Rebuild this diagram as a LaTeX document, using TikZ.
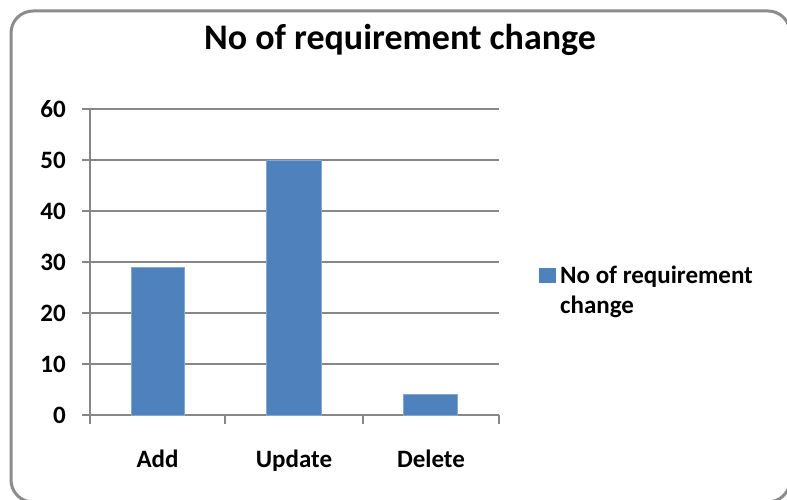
\documentclass[tikz,border=0pt]{standalone}
\usepackage{fontspec}
\setmainfont{Carlito}
\definecolor{barblue}{HTML}{4F81BD}
\definecolor{gridgray}{HTML}{878787}
\definecolor{framegray}{HTML}{8C8C8C}
\tikzset{
  frame/.style={draw=framegray, line width=3pt, rounded corners=22pt},
  gridline/.style={draw=gridgray, line width=1.3pt},
  axisline/.style={draw=gridgray, line width=2pt},
  bar/.style={fill=barblue, draw=barblue!70!white, line width=0.6pt},
  lbl/.style={font=\fontsize{25}{30}\selectfont\bfseries, inner sep=0pt},
  ttl/.style={font=\fontsize{36}{40}\selectfont\bfseries, inner sep=0pt}
}
\begin{document}
\begin{tikzpicture}[x=1pt,y=-1pt]
\useasboundingbox (0,0) rectangle (787,500);
\clip (0,0) rectangle (787,500);
\fill[white] (0,0) rectangle (787,500);
\draw[frame] (11,11) rectangle (790,502);
% title
\node[ttl, anchor=base] (title) at (400,50) {No of requirement change};
% gridlines and y labels
\foreach \v/\y in {60/109,50/160,40/211,30/262,20/313,10/364} {
  \draw[gridline] (82,\y) -- (499,\y);
}
\foreach \v/\y in {60/109,50/160,40/211,30/262,20/313,10/364,0/415} {
  \node[lbl, anchor=east] (y\v) at (66,\y) {\v};
}
% axes
\coordinate (o) at (90,415);
\coordinate (ytop) at (90,109);
\coordinate (xend) at (499,415);
\draw[axisline] (ytop) -- (o);
\draw[axisline] (82,415) -- (xend);
\foreach \x in {90,225,363,499} {
  \draw[axisline] (\x,415) -- (\x,424);
}
% bars
\fill[bar] (131,415) rectangle (184,267.1);
\fill[bar] (266,415) rectangle (321,160);
\fill[bar] (403,415) rectangle (457,394.6);
% category labels
\node[lbl, anchor=base] (cadd) at (157.5,467) {Add};
\node[lbl, anchor=base] (cupd) at (294,467) {Update};
\node[lbl, anchor=base] (cdel) at (431,467) {Delete};
% legend
\fill[barblue] (539,268) rectangle (556,283);
\node[lbl, anchor=base west] (leg1) at (560,283) {No of requirement};
\node[lbl, anchor=base west] (leg2) at (560,313) {change};
\end{tikzpicture}
\end{document}
